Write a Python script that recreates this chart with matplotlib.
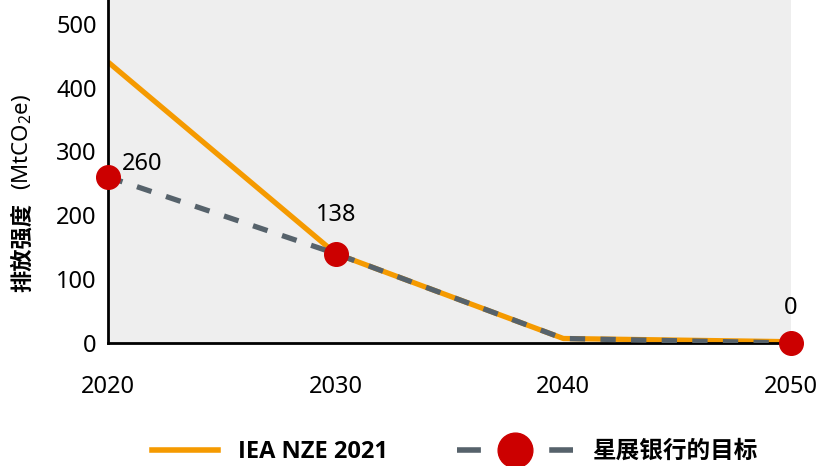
import matplotlib.pyplot as plt
from matplotlib.lines import Line2D

plt.rcParams['font.family'] = ['Noto Sans', 'Noto Sans CJK SC', 'DejaVu Sans']
plt.rcParams['mathtext.fontset'] = 'custom'
plt.rcParams['mathtext.rm'] = 'Noto Sans'
plt.rcParams['mathtext.it'] = 'Noto Sans'

years = [2020, 2030, 2040, 2050]
iea_nze = [440, 140, 7, 2]
dbs_target = [260, 140, 7, 0]
dbs_points_years = [2020, 2030, 2050]
dbs_points = [260, 140, 0]
point_labels = ["260", "138", "0"]
y_ticks = [0, 100, 200, 300, 400, 500]

ORANGE = "#f59a00"
GREY = "#56626b"
RED = "#cc0000"

fig = plt.figure(figsize=(8.21, 4.66), dpi=100)
ax = fig.add_axes([0.1315, 0.264, 0.832, 0.736])
ax.set_facecolor("#eeeeee")

ax.plot(years, iea_nze, color=ORANGE, lw=3.8, solid_capstyle="butt", zorder=2)
ax.plot(years, dbs_target, color=GREY, lw=3.8, dashes=(2.9, 2.9), zorder=3)
ax.plot(dbs_points_years, dbs_points, ls="none", marker="o", ms=17, color=RED,
        clip_on=False, zorder=4)

# value labels
ax.annotate(point_labels[0], (dbs_points_years[0], dbs_points[0]), xytext=(10, 9),
            textcoords="offset points", fontsize=17, ha="left", va="center")
ax.annotate(point_labels[1], (dbs_points_years[1], dbs_points[1]), xytext=(0, 28),
            textcoords="offset points", fontsize=17, ha="center", va="center")
ax.annotate(point_labels[2], (dbs_points_years[2], dbs_points[2]), xytext=(0, 25),
            textcoords="offset points", fontsize=17, ha="center", va="center")

ax.set_xlim(2020, 2050)
ax.set_ylim(0, 537)
ax.set_xticks(years)
ax.set_yticks(y_ticks)
ax.tick_params(axis="both", length=0, labelsize=17)
ax.tick_params(axis="x", pad=23)
ax.tick_params(axis="y", pad=8)
for s in ["top", "right"]:
    ax.spines[s].set_visible(False)
for s in ["left", "bottom"]:
    ax.spines[s].set_linewidth(2)
    ax.spines[s].set_color("black")

# y label: bold part + unit
fig.text(0.027, 0.468, "排放强度", rotation=90, fontsize=16, fontweight="bold",
         ha="center", va="center", family=["Noto Sans CJK SC"])
fig.text(0.027, 0.695, "(MtCO$_2$e)", rotation=90, fontsize=16,
         ha="center", va="center", family="Noto Sans")

legend_font = {"weight": "bold", "size": 17, "family": ["Open Sans", "Noto Sans CJK SC"]}
h_iea = Line2D([], [], color=ORANGE, lw=4)
h_dbs = Line2D([], [], color=GREY, lw=4, dashes=(4.3, 12.3), marker="o", ms=25,
               markerfacecolor=RED, markeredgecolor=RED)
leg1 = fig.legend([h_iea], ["IEA NZE 2021"], loc="center left",
                  bbox_to_anchor=(0.185, 0.03), frameon=False, borderpad=0,
                  borderaxespad=0, handlelength=2.8, handletextpad=0.85,
                  prop=legend_font)
leg2 = fig.legend([h_dbs], ["星展银行的目标"], loc="center left",
                  bbox_to_anchor=(0.557, 0.03), frameon=False, borderpad=0,
                  borderaxespad=0, handlelength=4.9, handletextpad=0.8,
                  prop=legend_font)

fig.savefig("out.png", dpi=100)
